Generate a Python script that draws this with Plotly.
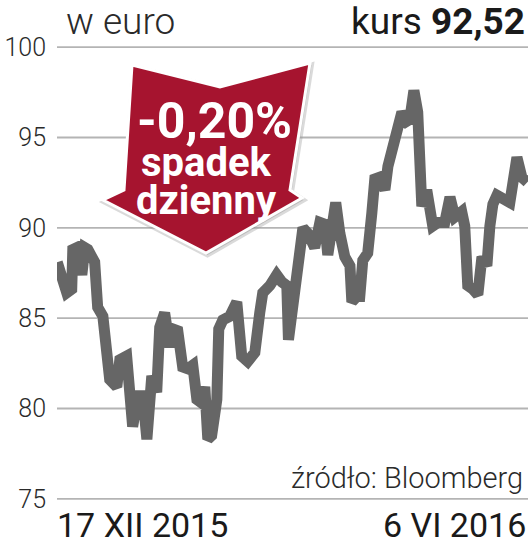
import pandas as pd
import plotly.graph_objects as go

# ---- data ----
day_offsets = [0, 1.6, 3.5, 5.3, 5.7, 7.1, 9.0, 10.1, 11.2, 13.7, 14.8, 16.7, 18.1, 19.2,
               21.8, 22.9, 25.4, 26.5, 27.6, 29.5, 31.3, 32.8, 34.6, 36.4, 37.5, 39.3,
               41.2, 42.3, 44.1, 45.9, 47.8, 49.6, 51.1, 52.9, 54.0, 55.1, 56.5, 58.4,
               59.1, 60.6, 63.1, 65.7, 67.5, 69.7, 72.3, 74.1, 75.2, 77.8, 80.3, 82.2,
               84.0, 84.6, 86.9, 88.0, 89.9, 91.7, 94.2, 96.1, 97.9, 99.0, 100.5, 101.9,
               103.4, 105.2, 107.1, 107.8, 109.6, 110.7, 111.8, 113.6, 115.1, 116.2,
               118.0, 119.9, 121.0, 122.4, 123.5, 126.1, 127.9, 129.0, 130.5, 131.9,
               133.4, 135.2, 137.4, 139.3, 141.8, 143.7, 145.5, 148.0, 149.1, 150.2,
               152.1, 153.9, 155.4, 157.2, 158.3, 159.4, 160.9, 162.7, 165.6, 168.2,
               170.0, 172.0]
prices = [88.1, 87.5, 86.4, 86.6, 88.8, 88.9, 87.4, 88.9, 88.8, 88.1, 85.6, 85.1, 82.3, 81.6,
          81.2, 82.7, 82.9, 81.2, 79.0, 80.7, 80.7, 78.3, 81.8, 80.9, 84.5, 85.3,
          83.4, 84.4, 84.3, 82.3, 82.2, 82.4, 80.5, 80.3, 81.2, 78.3, 78.5, 80.5,
          84.4, 84.9, 85.1, 85.9, 82.9, 82.6, 83.1, 85.3, 86.4, 86.8, 87.4, 87.0,
          86.8, 83.8, 86.6, 87.1, 90.0, 89.7, 88.9, 90.3, 90.2, 88.5, 90.1, 91.4,
          89.7, 88.4, 87.9, 85.9, 86.2, 86.2, 88.2, 88.6, 90.8, 92.7,
          92.8, 92.1, 93.4, 94.2, 95.4, 96.4, 95.9, 96.0, 97.6, 96.4,
          91.2, 92.1, 90.1, 90.3, 90.3, 91.7, 90.6, 90.9, 90.1, 86.8,
          86.6, 86.3, 88.4, 87.9, 90.1, 91.3, 91.8, 91.6, 91.4, 93.9,
          92.8, 92.52]
start_date = "2015-12-17"
end_date = "2016-06-06"
y_ticks = [75, 80, 85, 90, 95, 100]
y_labels = ["75", "80", "85", "90", "95", "100"]
date_labels = ["17 XII 2015", "6 VI 2016"]
unit_label = "w euro"
last_label = "kurs"
last_value = "92,52"
change_text = "-0,20%"
change_words = ["spadek", "dzienny"]
source_text = "źródło: Bloomberg"

dates = pd.Timestamp(start_date) + pd.to_timedelta(day_offsets, unit="D")

W, H = 531, 550
L, R, T, B = 57, 3, 45, 49
PW, PH = W - L - R, H - T - B
Y_RANGE = [74.88, 100.12]


def px(x):
    return (x - L) / PW


def py(y):
    return (H - B - y) / PH


x0 = pd.Timestamp(start_date) - pd.Timedelta(hours=2)
x1 = pd.Timestamp(end_date) + pd.Timedelta(hours=6)

fig = go.Figure()

# grid lines as a trace drawn underneath the price line
gx, gy = [], []
for v in y_ticks:
    gx += [x0, x1, None]
    gy += [v, v, None]
fig.add_trace(go.Scatter(
    x=gx, y=gy, mode="lines", line=dict(color="#b4b4b4", width=1.8),
    hoverinfo="skip", showlegend=False, cliponaxis=False, connectgaps=False,
))

fig.add_trace(go.Scatter(
    x=dates, y=prices, mode="lines",
    line=dict(color="#666666", width=11),
    hoverinfo="skip", showlegend=False,
))

# red arrow (decoration)
arrow_pts = [(132, 65), (220, 87), (310, 63), (290, 190), (302, 198),
             (206, 253), (103, 200), (124, 190)]


def path_of(pts, dx=0, dy=0):
    s = "M " + " L ".join(f"{px(x + dx):.5f},{py(y + dy):.5f}" for x, y in pts)
    return s + " Z"


shapes = [
    dict(type="path", xref="paper", yref="paper", path=path_of(arrow_pts, 1.5, 2),
         fillcolor="rgba(120,120,120,0.35)", line=dict(color="rgba(150,150,150,0.35)", width=5),
         layer="above"),
    dict(type="path", xref="paper", yref="paper", path=path_of(arrow_pts),
         fillcolor="#A6142F", line=dict(color="white", width=3), layer="above"),
]

font_light = dict(family="Roboto", color="#2a2a2a", weight=300)
annotations = [
    dict(text=unit_label, x=px(64), y=py(22), xanchor="left", yanchor="middle",
         font=dict(size=37, **font_light)),
    dict(text=f"{last_label} <b>{last_value}</b>", x=px(527), y=py(21), xanchor="right",
         yanchor="middle", font=dict(family="Roboto", size=37, color="#1a1a1a")),
    dict(text=f"<b>{change_text}</b>", x=px(214), y=py(121), xanchor="center", yanchor="middle",
         font=dict(family="Roboto", size=50, color="white")),
    dict(text=f"<b>{change_words[0]}</b>", x=px(206), y=py(162), xanchor="center", yanchor="middle",
         font=dict(family="Roboto", size=40, color="white")),
    dict(text=f"<b>{change_words[1]}</b>", x=px(206), y=py(200), xanchor="center", yanchor="middle",
         font=dict(family="Roboto", size=40, color="white")),
    dict(text=source_text, x=px(525), y=py(478), xanchor="right", yanchor="middle",
         font=dict(size=29, **font_light)),
    dict(text=date_labels[0], x=px(55), y=py(525), xanchor="left", yanchor="middle",
         font=dict(family="Roboto", size=34, color="#1a1a1a")),
    dict(text=date_labels[1], x=px(528), y=py(525), xanchor="right", yanchor="middle",
         font=dict(family="Roboto", size=34, color="#1a1a1a")),
]
for a in annotations:
    a.update(xref="paper", yref="paper", showarrow=False)

fig.update_layout(
    width=W, height=H, margin=dict(l=L, r=R, t=T, b=B),
    paper_bgcolor="white", plot_bgcolor="white",
    xaxis=dict(range=[x0, x1], showgrid=False, showticklabels=False, zeroline=False,
               showline=False, ticks=""),
    yaxis=dict(range=Y_RANGE, tickvals=y_ticks, ticktext=y_labels,
               showgrid=False, zeroline=False,
               showline=False, ticks="", ticklabelstandoff=10,
               tickfont=dict(size=25, **font_light)),
    shapes=shapes, annotations=annotations,
)

fig.write_html("out.html", config={"displayModeBar": False},
               post_script="document.body.style.margin='0';document.body.style.overflow='hidden';")
